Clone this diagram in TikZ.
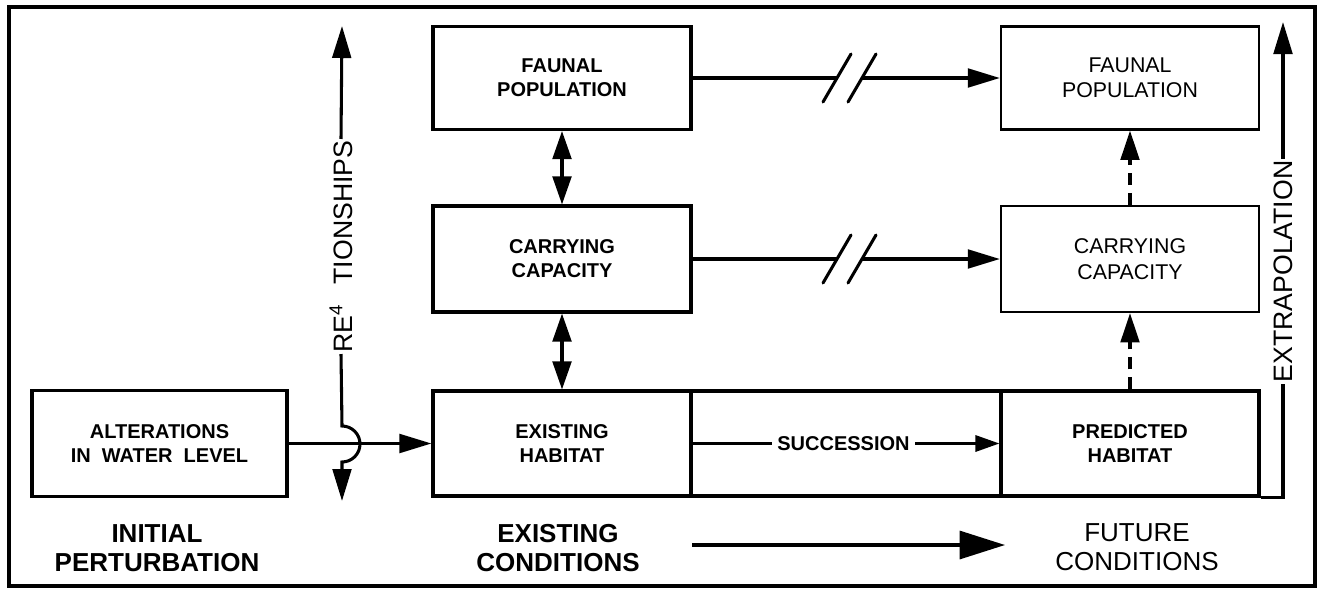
\documentclass[tikz,border=0pt]{standalone}
\usepackage{fontspec}
\setmainfont{Liberation Sans}
\usetikzlibrary{arrows.meta,positioning}

\begin{document}
\begin{tikzpicture}[x=0.75pt,y=0.75pt,yscale=-1,
  box/.style={draw,line width=2.3pt,inner sep=0pt,align=center,minimum width=193.5pt,minimum height=78.75pt,font=\fontsize{15}{18}\selectfont},
  thinbox/.style={box,line width=1.7pt,font=\fontsize{16}{19}\selectfont},
  boldbox/.style={box,font=\fontsize{15}{18}\selectfont\bfseries},
  biglabel/.style={align=center,font=\fontsize{19.5}{22}\selectfont\bfseries},
  sidelabel/.style={rotate=90,inner sep=1pt,font=\fontsize{20}{24}\selectfont},
  flow/.style={line width=2.3pt,-{Triangle[length=24pt,width=14pt]}},
  link/.style={line width=2.3pt,{Triangle[length=21pt,width=14pt]}-{Triangle[length=21pt,width=14pt]}},
  guess/.style={line width=2.3pt,dash pattern=on 9pt off 6pt,-{Triangle[length=22pt,width=14pt]}},
  breakmark/.style={line width=2.3pt,line cap=round}
]
\useasboundingbox (0,0) rectangle (1320,589);
%Frame
\draw [line width=2.8pt] (9,7) rectangle (1315,586);

%Flowchart: Process (initial)
\node [boldbox,minimum width=191.25pt,minimum height=80pt] (alter) at (159.5,443.5) {ALTERATIONS\\IN\ \ WATER\ \ LEVEL};
%Flowchart: Process (existing)
\node [boldbox,minimum height=77.25pt] (faunA) at (562,78) {FAUNAL\\POPULATION};
\node [boldbox,minimum height=79.5pt] (carryA) at (562,259) {CARRYING\\CAPACITY};
\node [boldbox] (exist) at (562,443.5) {EXISTING\\HABITAT};
\node [box,minimum width=232.5pt] (succ) at (846,443.5) {};
%Flowchart: Process (future)
\node [boldbox] (pred) at (1130,443.5) {PREDICTED\\HABITAT};
\node [thinbox,minimum height=77.25pt] (faunB) at (1130,78) {FAUNAL\\POPULATION};
\node [thinbox,minimum height=79.5pt] (carryB) at (1130,259) {CARRYING\\CAPACITY};

% Text Node
\node [inner sep=4pt,font=\fontsize{15}{18}\selectfont\bfseries] (succlab) at (843.5,443.5) {SUCCESSION};
\node [sidelabel] (rel) at (341,246.5) {RE\textsuperscript{4}\hspace{15pt}TIONSHIPS};
\node [sidelabel] (extra) at (1283,271.5) {EXTRAPOLATION};
\node [biglabel] (initlab) at (157,548) {INITIAL\\PERTURBATION};
\node [biglabel] (exlab) at (558,548) {EXISTING\\CONDITIONS};
\node [biglabel,font=\fontsize{19.5}{22}\selectfont] (futlab) at (1137,547) {FUTURE\\CONDITIONS};

\coordinate (cutA1) at (837,78);
\coordinate (cutA2) at (862,78);
\coordinate (cutB1) at (837,259);
\coordinate (cutB2) at (862,259);
\coordinate (reltop) at (342,26);
\coordinate (hopin) at (342,426);
\coordinate (relbot) at (342,501);
\coordinate (extop) at (1283,22);
\coordinate (trendA) at (692,545);
\coordinate (trendB) at (1005,545);

%Arrows
\draw [flow] (alter.east) -- (exist.west);
\draw [link] (faunA.south) -- (carryA.north);
\draw [link] (carryA.south) -- (exist.north);
\draw [line width=2.3pt] (faunA.east) -- (cutA1);
\draw [flow] (cutA2) -- (faunB.west);
\draw [line width=2.3pt] (carryA.east) -- (cutB1);
\draw [flow] (cutB2) -- (carryB.west);
\foreach \c in {cutA1,cutA2,cutB1,cutB2}
  \draw [breakmark] ([shift={(-14,24)}]\c) -- ([shift={(14,-24)}]\c);
\draw [line width=2.3pt] (exist.east) -- (succlab.west);
\draw [line width=2.3pt,-{Triangle[length=18pt,width=12pt]}] (succlab.east) -- (pred.west);
\draw [guess] (pred.north) -- (carryB.south);
\draw [guess] (carryB.north) -- (faunB.south);
\draw [flow] (rel.east) -- (reltop);
\draw [flow] (rel.west) -- (hopin) arc[start angle=-90,end angle=90,radius=18] -- (relbot);
\draw [line width=2.3pt] (pred.south east) -- (pred.south east -| extra) -- (extra.west);
\draw [flow] (extra.east) -- (extop);
\draw [line width=2.3pt,-{Triangle[length=34pt,width=21pt]}] (trendA) -- (trendB);

\end{tikzpicture}
\end{document}
